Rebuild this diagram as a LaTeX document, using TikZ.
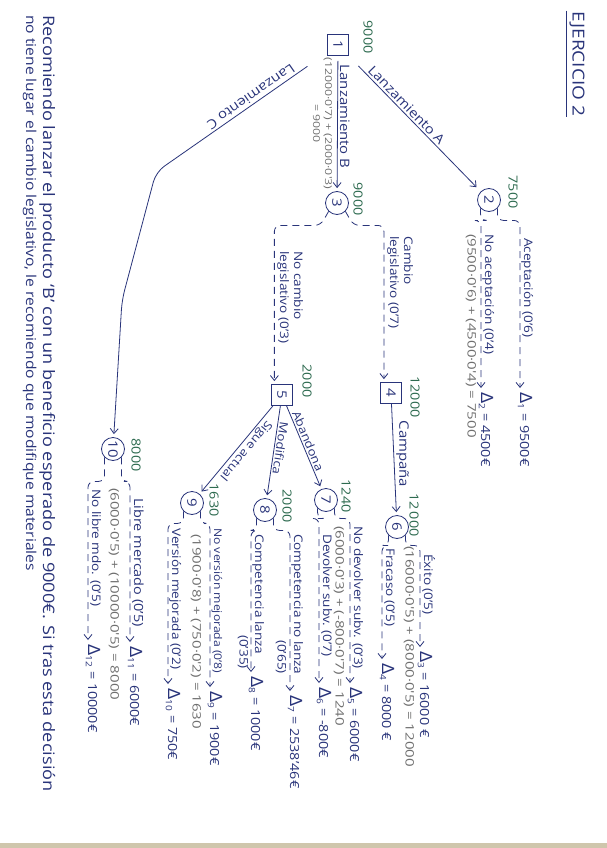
\documentclass[tikz,border=0pt]{standalone}
\usepackage{fontspec}
\setmainfont{Open Sans}[FakeStretch=1.15]
\newfontfamily\wideink{Open Sans}[FakeStretch=1.3]
\usetikzlibrary{arrows.meta, calc}
\definecolor{inkBlue}{HTML}{29347A}
\definecolor{inkGreen}{HTML}{2E6B50}
\definecolor{inkGray}{HTML}{6F6F6F}
\definecolor{paperEdge}{HTML}{CFC6AC}
\newcommand{\Dres}[1]{{\fontsize{17}{17}\selectfont Δ}\textsubscript{#1}}
\tikzset{
    decision/.style={rectangle, draw=inkBlue, line width=0.8pt, minimum size=21pt, inner sep=0pt, text=inkBlue, font=\fontsize{13}{13}\selectfont},
    chance/.style={circle, draw=inkBlue, line width=0.8pt, minimum size=23pt, inner sep=0pt, text=inkBlue, font=\fontsize{13}{13}\selectfont},
    value/.style={text=inkGreen, font=\fontsize{12.5}{12.5}\selectfont, inner sep=1pt},
    result/.style={anchor=base west, text=inkBlue, font=\fontsize{12.5}{12.5}\selectfont, inner sep=1pt},
    branchlbl/.style={anchor=base west, text=inkBlue, font=\fontsize{11.8}{14}\selectfont, inner sep=1pt},
    edgelbl/.style={text=inkBlue, font=\fontsize{13}{13}\selectfont, inner sep=2pt},
    smalledge/.style={edgelbl, font=\fontsize{11.5}{11.5}\selectfont, inner sep=1.5pt},
    calcnote/.style={text=inkGray, font=\wideink\fontsize{11.6}{13}\selectfont, inner sep=1pt},
    arrow/.style={-{Straight Barb[length=5pt, width=8pt]}, line width=0.8pt, draw=inkBlue},
    dasharrow/.style={arrow, dash pattern=on 7pt off 5pt, rounded corners=6pt, shorten >=3pt},
}

\begin{document}
\begin{tikzpicture}[x=1pt, y=1pt]
    \fill[white] (0,0) rectangle (607,-848);
    \fill[paperEdge] (0,-843) rectangle (607,-848);
    \useasboundingbox (0,0) rectangle (607,-848);

    % the sheet is written sideways: (u,v) = (down the page, across the page)
    \begin{scope}[rotate=-90, transform shape]
    \node[text=inkBlue, font=\fontsize{16.5}{16.5}\selectfont, inner xsep=1pt, inner ysep=3pt] (title) at (64,577) {EJERCICIO 2};
    \draw[inkBlue, line width=0.8pt] (title.south west) -- (title.south east);

    % decision and chance nodes
    \node[decision] (n1) at (45,338) {1};
    \node[chance] (n2) at (200,489) {2};
    \node[chance] (n3) at (203,337) {3};
    \node[decision] (n4) at (393,391) {4};
    \node[decision] (n5) at (395,282) {5};
    \node[chance] (n6) at (527,397) {6};
    \node[chance] (n7) at (500,326) {7};
    \node[chance] (n8) at (510,265) {8};
    \node[chance] (n9) at (503,192) {9};
    \node[chance] (n10) at (449,113) {10};

    % expected values
    \node[value] (e1) at (37,368) {9000};
    \node[value] (e2) at (192,513) {7500};
    \node[value] (e3) at (199,358) {9000};
    \node[value] (e4) at (397,415) {12000};
    \node[value] (e5) at (381,307) {2000};
    \node[value] (e6) at (515,414) {12\,000};
    \node[value] (e7) at (496,346) {1240};
    \node[value] (e8) at (506,287) {2000};
    \node[value] (e9) at (500,214) {1630};
    \node[value] (e10) at (455,136) {8000};

    % final payoffs
    \node[result] (d1) at (391,520) {\Dres{1} = 9500€};
    \node[result] (d2) at (391,481) {\Dres{2} = 4500€};
    \node[result] (d3) at (650,420) {\Dres{3} = 16000 €};
    \node[result] (d4) at (662,382) {\Dres{4} = 8000 €};
    \node[result] (d5) at (686,350) {\Dres{5} = 6000€};
    \node[result] (d6) at (686,319) {\Dres{6} = -800€};
    \node[result] (d7) at (694,290) {\Dres{7} = 2538'46€};
    \node[result] (d8) at (675,251) {\Dres{8} = 1000€};
    \node[result] (d9) at (690,210) {\Dres{9} = 1900€};
    \node[result] (d10) at (687,168) {\Dres{10} = 750€};
    \node[result] (d11) at (645,130) {\Dres{11} = 6000€};
    \node[result] (d12) at (643,88) {\Dres{12} = 10000€};

    % decisions
    \draw[arrow, shorten <=14pt, shorten >=6pt] (n1) -- node[edgelbl, sloped, above, pos=0.4] {Lanzamiento A} (n2);
    \draw[arrow, shorten <=5pt, shorten >=3pt] (n1) -- node[edgelbl, above, pos=0.45] {Lanzamiento B}
        node[calcnote, font=\wideink\fontsize{9.5}{12}\selectfont, below=4pt, pos=0.5, align=center] {(12000·0'7) + (2000·0'3)\\= 9000} (n3);
    \coordinate (bendC) at (172,156);
    \draw[arrow, rounded corners=10pt, shorten <=24pt, shorten >=3pt] (n1) -- node[edgelbl, sloped, below, pos=0.42] {Lanzamiento C} (bendC) -- (300,122) -- (n10);
    \draw[arrow, shorten >=3pt] (n4) -- node[edgelbl, above, pos=0.45] {Campaña} (n6);
    \draw[arrow, shorten >=3pt] (n5) -- node[smalledge, sloped, above, pos=0.45] {Abandona} (n7);
    \draw[arrow, shorten >=3pt] (n5) -- node[smalledge, sloped, above, pos=0.45] {Modifica} (n8);
    \draw[arrow, shorten >=3pt] (n5) -- node[smalledge, sloped, above, pos=0.45] {Sigue actual} (n9);

    % chance branches
    \draw[dasharrow] (n2.north east) -- +(12,0) |- (d1.base west);
    \draw[dasharrow] (n2.south east) -- +(12,0) |- (d2.base west);
    \draw[dasharrow] (n3.north east) -- +(14,8) |- ($(n4.west)!0.65!(n4.south west)$);
    \draw[dasharrow] (n3.south east) -- +(14,-8) |- ($(n5.west)!0.7!(n5.south west)$);
    \draw[dasharrow] (n6.north east) -- +(10,0) |- (d3.base west);
    \draw[dasharrow] (n6.south east) -- +(10,0) |- (d4.base west);
    \draw[dasharrow] (n7.north east) -- +(10,0) |- (d5.base west);
    \draw[dasharrow] (n7.south east) -- +(10,0) |- (d6.base west);
    \draw[dasharrow] (n8.north east) -- +(12,0) |- (d7.base west);
    \draw[dasharrow] (n8.south east) -- +(12,0) |- (d8.base west);
    \draw[dasharrow] (n9.north east) -- +(12,0) |- (d9.base west);
    \draw[dasharrow] (n9.south east) -- +(12,0) |- (d10.base west);
    \draw[dasharrow] (n10.north east) -- +(24,0) |- (d11.base west);
    \draw[dasharrow] (n10.south east) -- +(24,0) |- (d12.base west);

    % branch labels and working
    \node[branchlbl] (l1) at (237,524) {Aceptación (0'6)};
    \node[branchlbl] (l2) at (233,485) {No aceptación (0'4)};
    \node[calcnote, anchor=west] (c2) at (233,471) {(9500·0'6) + (4500·0'4) = 7500};
    \node[branchlbl, align=left, anchor=south west] (l3) at (235,386) {Cambio\\legislativo (0'7)};
    \node[branchlbl, align=left, anchor=south west] (l4) at (250,276) {No cambio\\legislativo (0'3)};
    \node[branchlbl] (l5) at (553,424) {Éxito (0'5)};
    \node[calcnote, anchor=west] (c6) at (545,409) {(16000·0'5) + (8000·0'5) = 12000};
    \node[branchlbl] (l6) at (547,386) {Fracaso (0'5)};
    \node[branchlbl] (l7) at (525,354) {No devolver subv. (0'3)};
    \node[calcnote, anchor=west] (c7) at (525,339) {(6000·0'3) + (-800·0'7) = 1240};
    \node[branchlbl] (l8) at (533,323) {Devolver subv. (0'7)};
    \node[branchlbl] (l9) at (533,294) {Competencia no lanza};
    \node[branchlbl, anchor=center] (p9) at (657,281) {(0'65)};
    \node[branchlbl] (l10) at (533,255) {Competencia lanza};
    \node[branchlbl, anchor=center] (p10) at (652,243) {(0'35)};
    \node[branchlbl, font=\fontsize{10.6}{12}\selectfont] (l11) at (527,214) {No versión mejorada (0'8)};
    \node[calcnote, anchor=west] (c9) at (533,196) {(1900·0'8) + (750·0'2) = 1630};
    \node[branchlbl] (l12) at (527,172) {Versión mejorada (0'2)};
    \node[branchlbl, font=\fontsize{12.6}{14}\selectfont] (l13) at (497,134) {Libre mercado (0'5)};
    \node[calcnote, anchor=west] (c10) at (487,114) {(6000·0'5) + (10000·0'5) = 8000};
    \node[branchlbl] (l14) at (488,92) {No libre mdo. (0'5)};

    % conclusion
    \node[text=inkBlue, font=\fontsize{15.8}{16}\selectfont, anchor=base west, inner sep=0pt] (concl1) at (15,43)
        {Recomiendo lanzar el producto `B' con un beneficio esperado de 9000€. Si tras esta decisión};
    \node[text=inkBlue, font=\fontsize{13.6}{14}\selectfont, anchor=base west, inner sep=0pt] (concl2) at (15,26)
        {no tiene lugar el cambio legislativo, le recomiendo que modifique materiales};
    \end{scope}
\end{tikzpicture}
\end{document}
